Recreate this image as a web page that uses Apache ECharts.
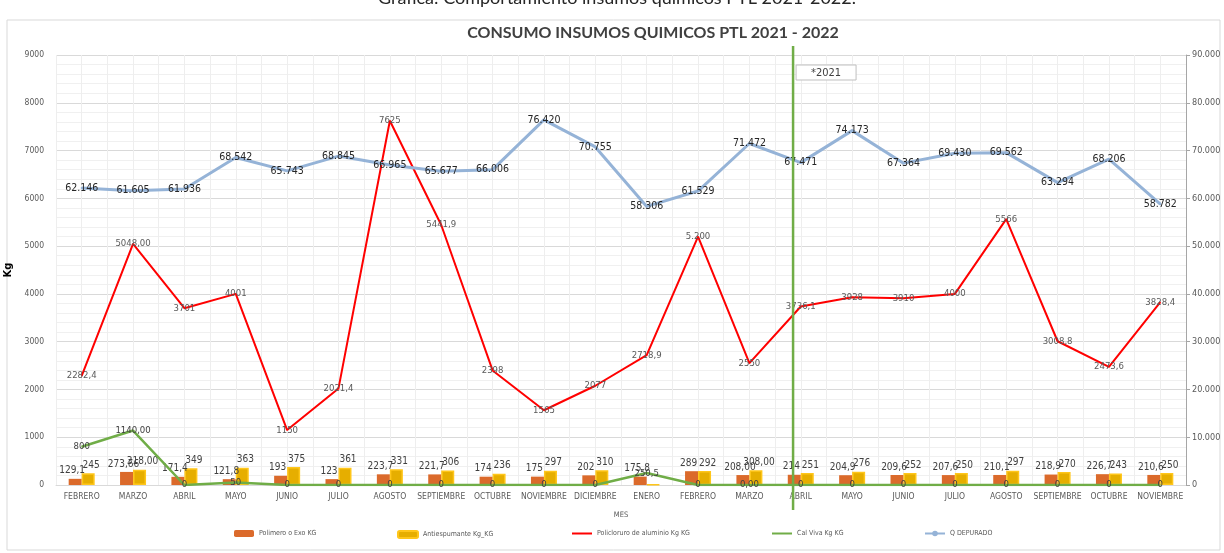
<!DOCTYPE html>
<html>
<head>
<meta charset="utf-8">
<script src="https://cdn.jsdelivr.net/npm/echarts@6/dist/echarts.min.js"></script>
<style>
  html, body { margin: 0; padding: 0; background: #fff; }
  #chart { width: 1224px; height: 553px; }
</style>
</head>
<body>
<div id="chart"></div>
<script>
// months from FEBRERO 2021 to NOVIEMBRE 2022
const months = [
  "FEBRERO", "MARZO", "ABRIL", "MAYO", "JUNIO", "JULIO", "AGOSTO", "SEPTIEMBRE",
  "OCTUBRE", "NOVIEMBRE", "DICIEMBRE", "ENERO", "FEBRERO", "MARZO", "ABRIL", "MAYO",
  "JUNIO", "JULIO", "AGOSTO", "SEPTIEMBRE", "OCTUBRE", "NOVIEMBRE"
];

const polimero = [129.1, 273.66, 171.4, 121.8, 193, 123, 223.7, 221.7, 174, 175, 202, 175.8,
  289, 208, 214, 204.9, 209.6, 207.6, 210.1, 218.9, 226.7, 210.6];
const polimeroLabels = ["129,1", "273,66", "171,4", "121,8", "193", "123", "223,7", "221,7", "174", "175", "202", "175,8",
  "289", "208,00", "214", "204,9", "209,6", "207,6", "210,1", "218,9", "226,7", "210,6"];

const antiespumante = [245, 318, 349, 363, 375, 361, 331, 306, 236, 297, 310, 10,
  292, 308, 251, 276, 252, 250, 297, 270, 243, 250];
const antiespumanteLabels = ["245", "318,00", "349", "363", "375", "361", "331", "306", "236", "297", "310", "",
  "292", "308,00", "251", "276", "252", "250", "297", "270", "243", "250"];

const policloruro = [2282.4, 5048, 3701, 4001, 1150, 2021.4, 7625, 5441.9, 2398, 1565, 2077, 2718.9,
  5200, 2550, 3736.1, 3928, 3910, 4000, 5566, 3008.8, 2473.6, 3828.4];
const policloruroLabels = ["2282,4", "5048,00", "3701", "4001", "1150", "2021,4", "7625", "5441,9", "2398", "1565", "2077", "2718,9",
  "5.200", "2550", "3736,1", "3928", "3910", "4000", "5566", "3008,8", "2473,6", "3828,4"];

const calViva = [800, 1140, 0, 50, 0, 0, 0, 0, 0, 0, 0, 250.5,
  0, 0, 0, 0, 0, 0, 0, 0, 0, 0];
const calVivaLabels = ["800", "1140,00", "0", "50", "0", "0", "0", "0", "0", "0", "0", "250,5",
  "0", "0,00", "0", "0", "0", "0", "0", "0", "0", "0"];

const qDepurado = [62146, 61605, 61936, 68542, 65743, 68845, 66965, 65677, 66006, 76420, 70755, 58306,
  61529, 71472, 67471, 74173, 67364, 69430, 69562, 63294, 68206, 58782];

const seriesNames = ["Polimero o Exo KG", "Antiespumante Kg_KG", "Policloruro de aluminio Kg KG", "Cal Viva Kg KG", "Q DEPURADO"];
const legendLeft = [229, 392, 566, 766, 919];

const font = '"DejaVu Sans Condensed", "Liberation Sans", sans-serif';
const thousands = (v) => String(Math.round(v)).replace(/\B(?=(\d{3})+(?!\d))/g, ".");
const fromList = (list) => (p) => list[p.dataIndex];

const chart = echarts.init(document.getElementById("chart"));

const lineLabel = (list, color, size) => ({
  show: true,
  position: "inside",
  formatter: fromList(list),
  color: color,
  fontSize: size,
  fontFamily: font
});

chart.setOption({
  animation: false,
  backgroundColor: "#fff",
  title: {
    text: "CONSUMO INSUMOS QUIMICOS PTL 2021 - 2022",
    left: 648,
    textAlign: "center",
    top: 20,
    textStyle: { fontFamily: "Lato", fontWeight: "bold", fontSize: 16, color: "#404040" }
  },
  grid: { left: 56, right: 38, top: 55, bottom: 68, outerBoundsMode: "none" },
  legend: seriesNames.map((name, i) => ({
    data: [name],
    left: legendLeft[i],
    top: 525,
    itemWidth: 20,
    itemHeight: 7,
    itemStyle: i === 2 || i === 3 ? { opacity: 0 } : {},
    textStyle: { fontSize: 7, color: "#595959", fontFamily: font }
  })),
  xAxis: [
    {
      type: "category",
      data: months,
      axisLine: { lineStyle: { color: "#D9D9D9" } },
      axisTick: { show: false },
      axisLabel: { interval: 0, color: "#595959", fontSize: 8.5, fontFamily: font, margin: 7 },
      splitLine: { show: true, lineStyle: { color: "#D9D9D9" } },
      name: "MES",
      nameLocation: "middle",
      nameGap: 26,
      nameTextStyle: { color: "#595959", fontSize: 7.5, fontFamily: font }
    },
    {
      type: "value",
      min: 0,
      max: 44,
      interval: 1,
      position: "top",
      axisLine: { show: false },
      axisTick: { show: false },
      axisLabel: { show: false },
      splitLine: { show: true, lineStyle: { color: "#EEEEEE" } }
    }
  ],
  yAxis: [
    {
      type: "value",
      min: 0,
      max: 9000,
      interval: 1000,
      name: "Kg",
      nameLocation: "middle",
      nameGap: 32,
      nameTextStyle: { fontWeight: "bold", fontSize: 11, color: "#000", fontFamily: font },
      axisLine: { show: false },
      axisTick: { show: false },
      axisLabel: { formatter: (v) => String(v), color: "#595959", fontSize: 8.5, fontFamily: font, margin: 12 },
      splitLine: { lineStyle: { color: "#D9D9D9" } },
      minorTick: { show: false, splitNumber: 5 },
      minorSplitLine: { show: true, lineStyle: { color: "#F0F0F0" } }
    },
    {
      type: "value",
      min: 0,
      max: 90000,
      interval: 10000,
      position: "right",
      axisLine: { show: true, lineStyle: { color: "#A6A6A6" } },
      axisTick: { show: true, length: 4, lineStyle: { color: "#A6A6A6" } },
      axisLabel: { formatter: thousands, color: "#595959", fontSize: 9, fontFamily: font, margin: 6 },
      splitLine: { show: false }
    }
  ],
  series: [
    {
      name: seriesNames[0],
      type: "bar",
      data: polimero,
      barWidth: 13,
      barGap: "0%",
      itemStyle: { color: "#DB6A2B" },
      label: { show: true, position: "top", distance: 3, offset: [-3, 0], formatter: fromList(polimeroLabels), color: "#404040", fontSize: 10, fontFamily: font }
    },
    {
      name: seriesNames[1],
      type: "bar",
      data: antiespumante,
      barWidth: 13,
      barGap: "0%",
      itemStyle: { color: "#E6AE00", borderColor: "#FFC61A", borderWidth: 1.5 },
      label: { show: true, position: "top", distance: 3, offset: [3, 0], formatter: fromList(antiespumanteLabels), color: "#404040", fontSize: 10, fontFamily: font }
    },
    {
      name: seriesNames[2],
      type: "line",
      data: policloruro,
      symbol: "circle",
      symbolSize: 1,
      showSymbol: true,
      lineStyle: { color: "#FF0000", width: 2 },
      itemStyle: { color: "#FF0000" },
      label: lineLabel(policloruroLabels, "#595959", 9.5)
    },
    {
      name: seriesNames[3],
      type: "line",
      data: calViva,
      symbol: "circle",
      symbolSize: 1,
      showSymbol: true,
      lineStyle: { color: "#70AD47", width: 2.5 },
      itemStyle: { color: "#70AD47" },
      label: lineLabel(calVivaLabels, "#404040", 9.5)
    },
    {
      name: seriesNames[4],
      type: "line",
      yAxisIndex: 1,
      data: qDepurado,
      symbol: "circle",
      symbolSize: 2,
      showSymbol: true,
      lineStyle: { color: "#95B3D7", width: 3 },
      itemStyle: { color: "#95B3D7" },
      label: { show: true, position: "inside", formatter: (p) => thousands(p.value), color: "#262626", fontSize: 10.5, fontFamily: font }
    }
  ]
});

// vertical marker between 2021 and 2022, placed through the helper axis
const markX = chart.convertToPixel({ xAxisIndex: 1 }, 28.7);

chart.setOption({
  graphic: [
    {
      type: "rect",
      shape: { x: 7, y: 20, width: 1213, height: 530 },
      style: { fill: "none", stroke: "#D9D9D9", lineWidth: 1 },
      silent: true
    },
    {
      type: "text",
      x: 617,
      y: 7,
      style: {
        text: "Gráfica: Comportamiento insumos químicos PTL 2021-2022.",
        fontFamily: "Lato",
        fontSize: 18,
        fill: "#262626",
        align: "center",
        verticalAlign: "bottom"
      },
      silent: true
    },
    {
      type: "line",
      shape: { x1: markX, y1: 46, x2: markX, y2: 510 },
      style: { stroke: "#70AD47", lineWidth: 2.5 },
      z: 100
    },
    {
      type: "rect",
      shape: { x: markX + 3, y: 65, width: 60, height: 15 },
      style: { fill: "#fff", stroke: "#BFBFBF", lineWidth: 1 },
      z: 100
    },
    {
      type: "text",
      x: markX + 33,
      y: 73,
      style: { text: "*2021", fontFamily: font, fontSize: 11, fill: "#404040", align: "center", verticalAlign: "middle" },
      z: 101
    }
  ]
});
</script>
</body>
</html>
